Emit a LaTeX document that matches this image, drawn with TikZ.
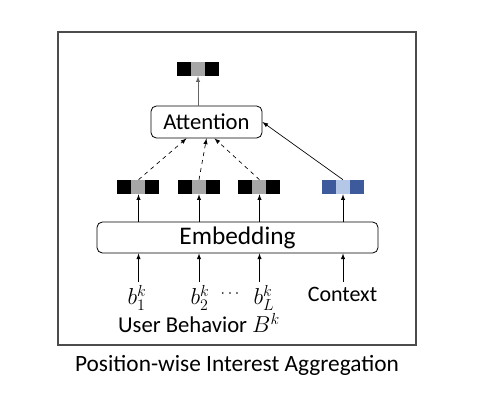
\documentclass[tikz,border=0pt]{standalone}
\usepackage{fontspec}
\setmainfont{Carlito}
\usetikzlibrary{positioning}

\definecolor{cellgray}{HTML}{A6A6A6}
\definecolor{cellblue}{HTML}{3C5A9C}
\definecolor{celllight}{HTML}{B4C7E7}

\tikzset{
	blk/.style={draw, rounded corners=4pt, line width=0.6pt, inner sep=0pt},
	vec/.style={minimum width=31.5pt, minimum height=10.5pt, inner sep=0pt},
	up/.style={-latex, line width=0.5pt},
	att/.style={-latex, dashed, line width=0.5pt},
	lbl/.style={inner sep=0pt, anchor=base}
}

\begin{document}
\begin{tikzpicture}[x=0.75pt, y=-0.75pt]

	\def\cw{10.5pt};

	% frame
	\useasboundingbox (0,0) rectangle (482,402);
	\draw[line width=1.1pt, draw=black!70] (58,32) rectangle (416,345);

	% boxes
	\node[blk, minimum width=83.25pt, minimum height=24pt, font=\fontsize{17}{19}\selectfont] (attn) at (206.5,122) {Attention};
	\node[blk, minimum width=210.75pt, minimum height=23.25pt, font=\fontsize{19}{21}\selectfont] (emb) at (237.5,237.5) {Embedding};

	% vectors
	\node[vec] (out) at (198,69) {};
	\node[vec] (e1) at (138.5,187) {};
	\node[vec] (e2) at (199,187) {};
	\node[vec] (e3) at (259.5,187) {};
	\node[vec] (ctx) at (343,187) {};

	\foreach \v in {out,e1,e2,e3} {
		\fill[black] (\v.south west) rectangle ++(\cw,10.5pt);
		\fill[cellgray] ([xshift=\cw]\v.south west) rectangle ++(\cw,10.5pt);
		\fill[black] ([xshift=2*\cw]\v.south west) rectangle ++(\cw,10.5pt);
	}
	\fill[cellblue] (ctx.south west) rectangle ++(\cw,10.5pt);
	\fill[celllight] ([xshift=\cw]ctx.south west) rectangle ++(\cw,10.5pt);
	\fill[cellblue] ([xshift=2*\cw]ctx.south west) rectangle ++(\cw,10.5pt);

	% inputs
	\node[lbl, font=\fontsize{18}{20}\selectfont] (b1) at (137,305) {$b_1^k$};
	\node[lbl, font=\fontsize{18}{20}\selectfont] (b2) at (200,305) {$b_2^k$};
	\node[lbl, font=\fontsize{13}{15}\selectfont] (dots) at (230,298) {$\cdots$};
	\node[lbl, font=\fontsize{18}{20}\selectfont] (bL) at (264,305) {$b_L^k$};
	\node[lbl, font=\fontsize{16.5}{18}\selectfont] (cont) at (342.5,302) {Context};
	\node[lbl, font=\fontsize{17}{19}\selectfont] (user) at (199,333) {User Behavior $B^k$};
	\node[lbl, font=\fontsize{17.5}{19}\selectfont] (cap) at (237,372) {Position-wise Interest Aggregation};

	\coordinate (i1) at (138.5,282);
	\coordinate (i2) at (199,282);
	\coordinate (i3) at (259.5,282);
	\coordinate (i4) at (343,282);

	% arrows into embedding
	\draw[up] (i1) -- (i1 |- emb.south);
	\draw[up] (i2) -- (i2 |- emb.south);
	\draw[up] (i3) -- (i3 |- emb.south);
	\draw[up] (i4) -- (i4 |- emb.south);

	% arrows out of embedding
	\draw[up] (e1 |- emb.north) -- (e1.south);
	\draw[up] (e2 |- emb.north) -- (e2.south);
	\draw[up] (e3 |- emb.north) -- (e3.south);
	\draw[up] (ctx |- emb.north) -- (ctx.south);

	% attention
	\draw[att] (e1.north) -- ([xshift=-15pt]attn.south);
	\draw[att] (e2.north) -- (attn.south);
	\draw[att] (e3.north) -- ([xshift=6pt]attn.south);
	\draw[up] (ctx.north) -- (attn.east);
	\draw[up, draw=black!60] (out |- attn.north) -- (out.south);

\end{tikzpicture}
\end{document}
